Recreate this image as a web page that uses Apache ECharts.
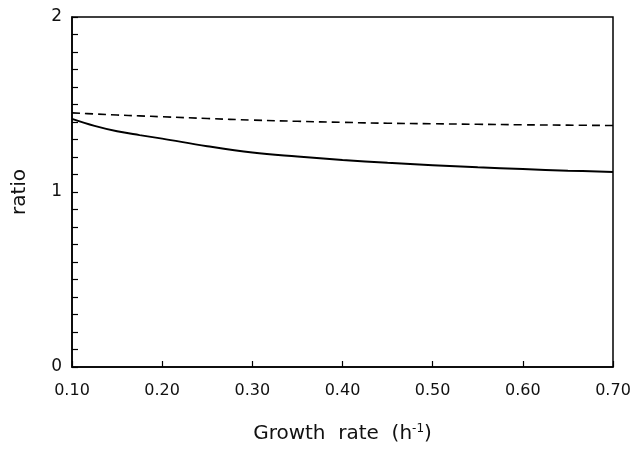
<!DOCTYPE html>
<html>
<head>
<meta charset="utf-8">
<script src="https://cdn.jsdelivr.net/npm/echarts@6/dist/echarts.min.js"></script>
<style>
  html, body { margin: 0; padding: 0; background: #fff; }
  #chart { width: 637px; height: 449px; }
</style>
</head>
<body>
<div id="chart"></div>
<script>
// growth rate (h-1)
var growthRate = [0.10, 0.125, 0.15, 0.175, 0.20, 0.25, 0.30, 0.35, 0.40, 0.45, 0.50, 0.55, 0.60, 0.65, 0.70];
// solid curve
var solidRatio = [1.418, 1.378, 1.347, 1.325, 1.305, 1.262, 1.226, 1.203, 1.183, 1.167, 1.153, 1.141, 1.131, 1.122, 1.114];
// dashed curve
var dashedRatio = [1.452, 1.446, 1.440, 1.435, 1.430, 1.420, 1.411, 1.404, 1.398, 1.393, 1.390, 1.387, 1.384, 1.382, 1.380];

function pairs(xs, ys) {
    var out = [];
    for (var i = 0; i < xs.length; i++) out.push([xs[i], ys[i]]);
    return out;
}

var chart = echarts.init(document.getElementById('chart'));
var font = 'DejaVu Sans';

var option = {
    backgroundColor: '#fff',
    animation: false,
    grid: {
        left: 72, right: 24, top: 17, bottom: 80,
        show: true,
        borderColor: '#000',
        borderWidth: 1.5
    },
    xAxis: {
        type: 'value',
        min: 0.1,
        max: 0.7,
        interval: 0.1,
        name: 'Growth  rate  (h{sup|-1})',
        nameLocation: 'center',
        nameGap: 56,
        nameTextStyle: {
            fontFamily: font, fontSize: 20, color: '#111',
            rich: { sup: { fontFamily: font, fontSize: 12, color: '#111', verticalAlign: 'top', padding: [0, 0, 10, 0] } }
        },
        axisLine: { lineStyle: { color: '#000', width: 1.5 } },
        axisTick: { inside: true, length: 6, lineStyle: { color: '#000', width: 1.2 } },
        splitLine: { show: false },
        axisLabel: {
            margin: 16,
            fontFamily: font, fontSize: 16, color: '#111',
            formatter: function (v) { return v.toFixed(2); }
        }
    },
    yAxis: {
        type: 'value',
        min: 0,
        max: 2,
        interval: 0.1,
        name: 'ratio',
        nameLocation: 'center',
        nameGap: 42,
        nameTextStyle: { fontFamily: font, fontSize: 20, color: '#111' },
        axisLine: { show: true, lineStyle: { color: '#000', width: 1.5 } },
        axisTick: { inside: true, length: 6, lineStyle: { color: '#000', width: 1.2 } },
        splitLine: { show: false },
        axisLabel: {
            margin: 10,
            fontFamily: font, fontSize: 17, color: '#111',
            formatter: function (v) {
                return Math.abs(v - Math.round(v)) < 1e-6 ? String(Math.round(v)) : '';
            }
        }
    },
    series: [
        {
            type: 'line',
            data: pairs(growthRate, solidRatio),
            smooth: 0.4,
            showSymbol: false,
            lineStyle: { color: '#000', width: 2 }
        },
        {
            type: 'line',
            data: pairs(growthRate, dashedRatio),
            smooth: 0.4,
            showSymbol: false,
            lineStyle: { color: '#000', width: 1.6, type: [8, 5] }
        }
    ]
};
chart.setOption(option);
</script>
</body>
</html>
